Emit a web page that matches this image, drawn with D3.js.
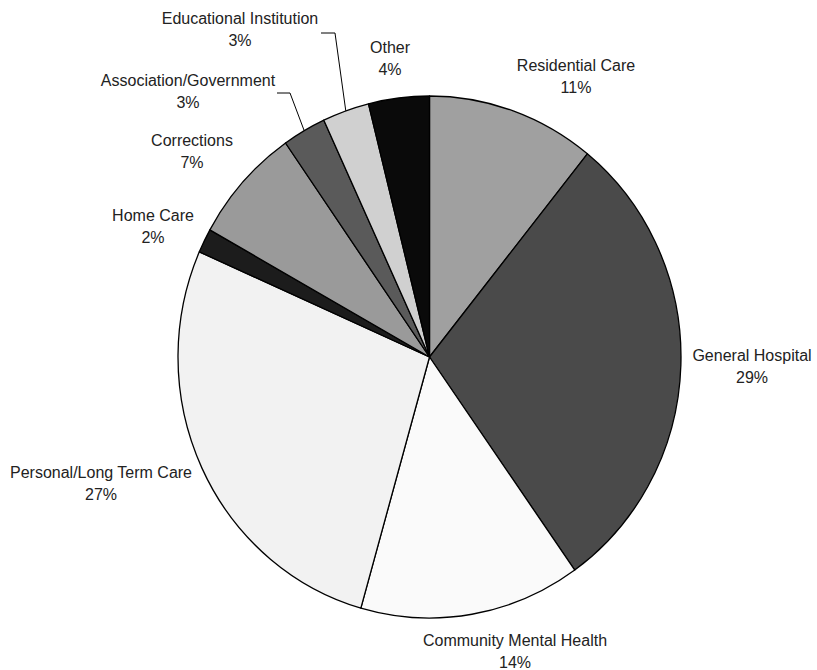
<!DOCTYPE html>
<html>
<head>
<meta charset="utf-8">
<script src="https://cdn.jsdelivr.net/npm/d3@7"></script>
<style>
  html, body { margin: 0; padding: 0; background: #fff; }
  svg { display: block; }
  text { font-family: "Liberation Sans", Arial, sans-serif; font-size: 16px; fill: #222; }
</style>
</head>
<body>
<svg id="chart" width="817" height="670"></svg>
<script>
// ---- data ----
const categories = ["Residential Care", "General Hospital", "Community Mental Health",
  "Personal/Long Term Care", "Home Care", "Corrections", "Association/Government",
  "Educational Institution", "Other"];
const values = [10.8, 29.4, 14.2, 27.2, 1.5, 7.2, 2.8, 3.0, 3.9];
const colors = ["#a0a0a0", "#4a4a4a", "#fafafa", "#f2f2f2", "#1c1c1c",
  "#9a9a9a", "#5a5a5a", "#d0d0d0", "#0a0a0a"];

// ---- layout ----
const cx = 429.5, cy = 357, rx = 251.5, ry = 261;
const labelPos = [
  [576, 65], [752, 355], [515, 640], [101, 472], [153, 215],
  [192, 140], [188, 80], [240, 18], [390, 47]
];
const leaders = { 6: [[277, 93], [290, 93]], 7: [[321, 33], [335, 33]] };
const lineGap = 22;

const svg = d3.select("#chart");
const pie = d3.pie().sort(null).value(d => d)(values);
const arc = d3.arc().innerRadius(0).outerRadius(rx);

const g = svg.append("g").attr("transform", `translate(${cx},${cy}) scale(1,${ry / rx})`);
g.selectAll("path").data(pie).join("path")
  .attr("d", arc)
  .attr("fill", (d, i) => colors[i])
  .attr("stroke", "#000")
  .attr("stroke-width", 1.3)
  .attr("vector-effect", "non-scaling-stroke")
  .attr("stroke-linejoin", "round");

// leader lines
Object.keys(leaders).forEach(k => {
  const d = pie[+k];
  const a = (d.startAngle + d.endAngle) / 2;
  const end = [cx + Math.sin(a) * rx, cy - Math.cos(a) * ry];
  const pts = leaders[k].concat([end]);
  svg.append("path")
    .attr("d", d3.line()(pts))
    .attr("fill", "none")
    .attr("stroke", "#000")
    .attr("stroke-width", 1);
});

// labels
const lab = svg.append("g");
pie.forEach((d, i) => {
  const [x, y] = labelPos[i];
  const t = lab.append("text").attr("text-anchor", "middle");
  t.append("tspan").attr("x", x).attr("y", y + 5.5).text(categories[i]);
  t.append("tspan").attr("x", x).attr("y", y + 5.5 + lineGap).text(Math.round(values[i]) + "%");
});
</script>
</body>
</html>
